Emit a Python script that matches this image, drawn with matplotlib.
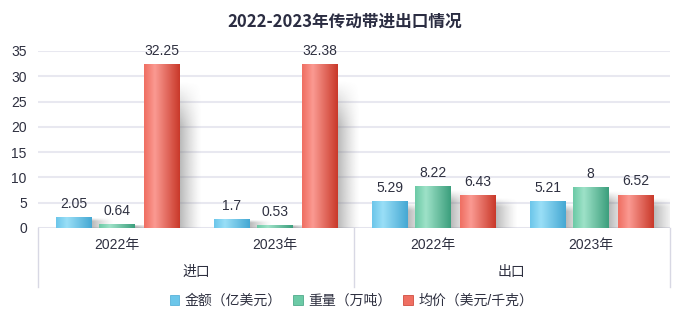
import numpy as np
import matplotlib.pyplot as plt
from matplotlib.colors import LinearSegmentedColormap, to_rgb
from matplotlib.patches import Patch
import matplotlib.transforms as mtransforms

plt.rcParams['font.family'] = ['Liberation Sans', 'Noto Sans CJK SC', 'DejaVu Sans']

# данные по годам внутри групп
groups = ['进口', '出口']
years = ['2022年', '2023年', '2022年', '2023年']
amount = [2.05, 1.7, 5.29, 5.21]      # 金额
weight = [0.64, 0.53, 8.22, 8]        # 重量
price = [32.25, 32.38, 6.43, 6.52]    # 均价
series_names = ['金额（亿美元）', '重量（万吨）', '均价（美元/千克）']

palettes = [
    ['#6cc6ea', '#9adff7', '#45a8d3'],
    ['#6ccaa6', '#9ee2c8', '#3c9f7d'],
    ['#ef6f62', '#fb9a92', '#c9392a'],
]

fig = plt.figure(figsize=(6.89, 3.29), dpi=100)
ax = fig.add_axes([0.055, 0.307, 0.917, 0.538])

x = np.arange(len(years))
width = 0.222
offsets = [-0.272, 0.0, 0.285]
series = [amount, weight, price]
txt = '#2e3040'


def gradient_bar(x0, h, cols):
    cmap = LinearSegmentedColormap.from_list('g', [(0, cols[0]), (0.3, cols[1]), (1, cols[2])])
    grad = np.linspace(0, 1, 64).reshape(1, -1)
    ax.imshow(grad, cmap=cmap, aspect='auto', extent=(x0, x0 + width, 0, h),
              zorder=3, interpolation='bicubic')


def shadow(x0, h):
    w = width * 0.65
    nx, ny = 40, 60
    gx = np.linspace(1, 0, nx) ** 1.3
    gy = np.clip(np.linspace(0, 1, ny) / 0.3, 0, 1)  # fades near the top
    alpha = 0.55 * gy[:, None] * gx[None, :]
    img = np.zeros((ny, nx, 4))
    img[..., :3] = to_rgb('#7a7a7a')
    img[..., 3] = alpha
    ax.imshow(img, aspect='auto', extent=(x0 + width, x0 + width + w, 0, h * 0.9),
              origin='upper', zorder=2, interpolation='bicubic')


for vals, off, cols in zip(series, offsets, palettes):
    for xi, v in zip(x, vals):
        x0 = xi + off - width / 2
        shadow(x0, v)
        gradient_bar(x0, v, cols)
        ax.text(xi + off, v + 1.3, f'{v:g}', ha='center', va='bottom',
                fontsize=10, color=txt, zorder=5)

ax.set_xlim(-0.5, 3.5)
ax.set_ylim(0, 35)
ax.set_yticks(range(0, 36, 5))
ax.set_xticks([])
ax.tick_params(axis='y', length=0, labelsize=10, labelcolor=txt, pad=8)
ax.grid(axis='y', color='#e8e8f0', linewidth=1.5, zorder=0)
ax.set_axisbelow(True)
for s in ax.spines.values():
    s.set_visible(False)
ax.axhline(0, color='#d8d8e4', linewidth=1, zorder=1)

# двухуровневые подписи оси X
trans = mtransforms.blended_transform_factory(ax.transData, ax.transAxes)
for xi, yl in zip(x, years):
    ax.text(xi, -0.096, yl, transform=trans, ha='center', va='center',
            fontsize=10, color=txt)
for gi, g in enumerate(groups):
    ax.text(gi * 2 + 0.5, -0.25, g, transform=trans, ha='center', va='center',
            fontsize=10, color=txt)
for sx in [-0.5, 1.5, 3.5]:
    ax.plot([sx, sx], [0, -0.333], transform=trans, color='#d8d8e4',
            linewidth=1, clip_on=False)

fig.text(0.5, 0.935, '2022-2023年传动带进出口情况', ha='center', va='center',
         fontsize=12, fontweight='bold', color='#2b2d42',
         family=['Noto Sans CJK SC', 'DejaVu Sans'])

handles = [Patch(facecolor=c[0], edgecolor=c[2], linewidth=0.5) for c in palettes]
fig.legend(handles, series_names, loc='center', bbox_to_anchor=(0.51, 0.085), ncol=3,
           frameon=False, fontsize=10, handlelength=0.7, handleheight=0.7,
           handletextpad=0.4, columnspacing=0.8, labelcolor=txt)

fig.savefig('out.png', dpi=100)
